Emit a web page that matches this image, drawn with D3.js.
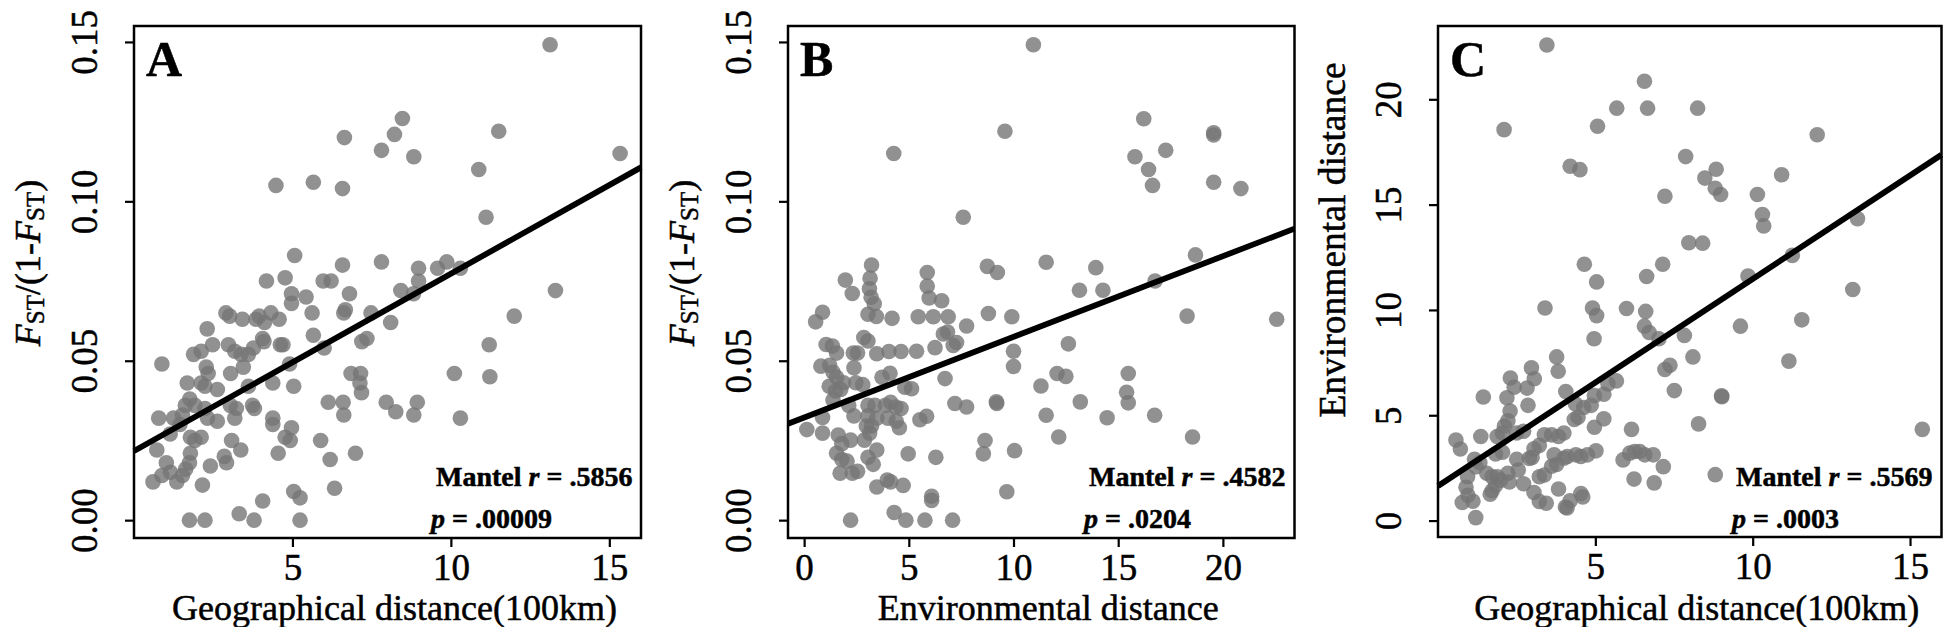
<!DOCTYPE html>
<html><head><meta charset="utf-8">
<script src="https://cdn.jsdelivr.net/npm/d3@7"></script>
<style>
html,body{margin:0;padding:0;background:#fff;}
svg{display:block;}
text{font-family:"Liberation Serif","Times New Roman",serif;fill:#000;stroke:#000;stroke-width:0.5px;}
</style></head>
<body>
<svg id="chart" width="1944" height="627"></svg>
<script>
// ---------- DATA ----------
// Panel A: geographical distance (100km) vs FST/(1-FST)
const pointsA = [
[13.13,0.1491],[8.47,0.126],[8.22,0.121],[6.64,0.120],[11.51,0.122],[7.81,0.116],[8.83,0.114],[15.34,0.115],
[10.88,0.110],[4.48,0.105],[5.66,0.106],[6.58,0.104],[11.11,0.095],[5.07,0.083],[7.81,0.081],[6.58,0.080],
[8.98,0.079],[9.58,0.079],[9.87,0.081],[10.30,0.079],[4.18,0.075],[4.77,0.076],[5.97,0.075],[6.22,0.075],
[8.98,0.075],[4.97,0.071],[4.97,0.068],[5.43,0.070],[6.80,0.071],[8.42,0.072],[8.82,0.071],[13.30,0.072],
[2.90,0.065],[3.02,0.064],[3.42,0.063],[3.85,0.063],[4.12,0.062],[3.95,0.064],[4.32,0.065],[4.58,0.063],
[5.62,0.065],[6.62,0.065],[6.67,0.066],[7.48,0.065],[8.10,0.062],[12.0,0.064],[2.31,0.060],[5.66,0.058],
[4.06,0.057],[4.10,0.056],[7.19,0.056],[7.35,0.057],[2.98,0.055],[2.48,0.055],[3.18,0.053],[3.38,0.052],
[3.61,0.052],[3.77,0.054],[1.88,0.052],[2.12,0.053],[4.62,0.055],[4.70,0.055],[6.0,0.054],[11.21,0.055],
[0.88,0.049],[2.28,0.048],[3.05,0.046],[3.45,0.048],[4.91,0.049],[1.68,0.043],[2.12,0.043],[2.34,0.046],
[2.24,0.042],[2.63,0.041],[3.61,0.042],[4.38,0.043],[5.04,0.042],[6.85,0.046],[7.15,0.046],[7.13,0.043],
[7.18,0.040],[10.11,0.046],[11.23,0.045],[1.76,0.038],[1.62,0.036],[1.92,0.036],[2.24,0.035],[2.32,0.032],
[2.63,0.031],[3.04,0.036],[3.23,0.035],[3.18,0.032],[3.74,0.036],[3.80,0.035],[0.78,0.032],[1.25,0.032],
[1.53,0.033],[1.45,0.030],[1.14,0.027],[1.78,0.026],[2.12,0.026],[1.92,0.025],[3.08,0.025],[4.38,0.032],
[4.38,0.030],[4.77,0.026],[4.97,0.029],[4.93,0.025],[6.13,0.037],[6.60,0.037],[6.62,0.033],[5.89,0.025],
[7.96,0.037],[8.26,0.034],[8.83,0.033],[8.94,0.037],[10.30,0.032],[0.72,0.022],[1.02,0.018],[0.88,0.014],
[0.60,0.012],[1.15,0.015],[1.35,0.012],[1.53,0.014],[1.63,0.016],[1.78,0.021],[1.75,0.018],[2.41,0.017],
[2.85,0.020],[2.92,0.018],[3.37,0.022],[4.55,0.021],[6.19,0.019],[6.99,0.021],[2.16,0.011],[6.33,0.010],
[5.04,0.009],[5.24,0.007],[4.06,0.006],[3.32,0.002],[1.75,0.000],[2.24,0.000],[3.79,0.000],[5.24,0.000]
];
// Panel B: environmental distance vs FST/(1-FST)
const pointsB = [
[3.22,0.080],[1.97,0.0753],[2.30,0.0711],[3.15,0.0759],[3.12,0.0726],[3.20,0.0699],[3.35,0.0679],[3.05,0.0646],
[3.45,0.0639],[0.88,0.0652],[0.55,0.0622],[4.20,0.0633],[2.85,0.0573],[3.05,0.0562],[1.05,0.0551],[1.35,0.0546],
[1.55,0.0524],[2.35,0.0524],[2.55,0.0524],[3.47,0.0522],[4.05,0.0529],[4.63,0.0529],[0.80,0.0483],[1.22,0.0486],
[2.38,0.0478],[4.10,0.0461],[1.38,0.0464],[1.55,0.0448],[1.88,0.0431],[2.47,0.0431],[2.80,0.0425],[1.20,0.042],
[1.50,0.0405],[1.75,0.041],[3.72,0.0448],[1.38,0.0377],[2.13,0.036],[3.05,0.036],[3.38,0.036],[3.88,0.036],
[4.13,0.037],[4.38,0.0355],[4.63,0.035],[0.88,0.0322],[0.13,0.0284],[0.88,0.0273],[2.38,0.0327],[3.05,0.0327],
[3.47,0.032],[2.97,0.0295],[3.22,0.0295],[3.13,0.0273],[4.00,0.032],[4.40,0.031],[4.55,0.029],[1.63,0.0267],
[1.80,0.024],[2.22,0.0251],[2.88,0.0251],[1.55,0.021],[1.80,0.019],[2.05,0.0185],[3.05,0.0197],[3.30,0.0175],
[3.47,0.022],[1.72,0.0147],[2.30,0.0147],[2.55,0.0153],[3.47,0.0104],[3.97,0.0126],[4.13,0.012],[2.22,0.0],
[4.30,0.0024],[4.73,0.0109],[5.88,0.0777],[5.88,0.0734],[5.97,0.0697],[6.57,0.0688],[8.75,0.0796],[9.23,0.0777],
[5.45,0.0638],[6.17,0.0638],[6.88,0.0638],[7.76,0.0609],[8.80,0.0648],[9.92,0.0638],[6.65,0.0584],[6.85,0.059],
[7.28,0.0557],[7.12,0.0548],[6.25,0.0541],[5.37,0.053],[6.73,0.0444],[4.81,0.0417],[5.13,0.0412],[7.20,0.0366],
[7.76,0.0355],[9.20,0.0366],[10.0,0.053],[10.0,0.0482],[8.64,0.025],[8.56,0.0208],[10.05,0.0218],[5.53,0.0315],
[5.85,0.0326],[4.97,0.0208],[6.29,0.0197],[6.09,0.0075],[6.09,0.0062],[9.68,0.0089],[4.86,0.0],[5.77,0.0],
[7.09,0.0],[7.60,0.095],[10.95,0.1491],[16.22,0.1259],[19.56,0.1208],[19.56,0.1215],[9.59,0.122],[4.28,0.115],
[15.80,0.114],[17.27,0.116],[16.45,0.110],[16.64,0.105],[19.56,0.106],[20.86,0.104],[11.56,0.0809],[13.93,0.0792],
[18.69,0.0832],[13.15,0.0721],[14.27,0.0721],[16.76,0.075],[18.29,0.064],[22.57,0.063],[12.62,0.0553],[12.08,0.046],
[12.50,0.0451],[15.48,0.046],[15.40,0.0401],[15.48,0.0368],[11.31,0.0421],[9.18,0.0371],[13.19,0.0371],[11.56,0.0329],
[14.47,0.0321],[16.74,0.0329],[12.16,0.0261],[18.55,0.0261]
];
// Panel C: geographical distance (100km) vs environmental distance
const pointsC = [
[3.46,22.58],[6.56,20.86],[5.68,19.58],[6.66,19.58],[8.25,19.58],[2.10,18.56],[5.07,18.72],[12.05,18.32],
[7.87,17.28],[4.20,16.82],[4.51,16.66],[8.84,16.68],[8.48,16.26],[10.92,16.42],[8.81,15.78],[8.98,15.48],
[7.21,15.40],[10.15,15.48],[10.31,14.53],[10.35,13.99],[13.33,14.33],[7.97,13.19],[8.41,13.17],[11.26,12.59],
[4.65,12.17],[7.14,12.17],[6.63,11.59],[5.04,11.33],[9.85,11.61],[13.18,10.97],[3.40,10.09],[4.91,10.09],
[5.04,9.73],[5.99,10.07],[6.60,9.93],[6.56,9.23],[6.71,8.93],[9.61,9.23],[11.56,9.53],[4.96,8.63],
[7.02,8.63],[7.83,8.79],[8.10,7.77],[3.77,7.77],[3.82,7.09],[7.37,7.37],[7.21,7.17],[11.15,7.57],
[2.97,7.25],[3.06,6.73],[2.30,6.77],[2.42,6.33],[2.83,6.29],[4.06,6.13],[5.67,6.63],[5.40,6.49],
[7.51,6.17],[9.01,5.92],[9.02,5.88],[1.44,5.87],[2.19,5.83],[2.29,5.20],[2.22,4.74],[2.11,4.49],
[2.86,5.47],[4.37,5.53],[4.63,5.37],[4.87,5.47],[4.97,5.93],[5.27,6.00],[4.45,4.90],[4.33,4.80],
[5.27,4.83],[4.97,4.43],[8.28,4.59],[6.15,4.33],[15.39,4.33],[0.57,3.82],[0.71,3.40],[1.36,3.99],
[1.88,3.99],[2.05,4.16],[2.50,4.16],[2.72,4.24],[1.16,2.91],[1.33,2.75],[1.83,3.16],[2.05,3.24],
[2.50,2.91],[3.05,3.41],[3.22,3.57],[3.38,4.07],[3.61,4.07],[3.83,3.99],[4.00,4.16],[2.99,3.00],
[0.94,2.08],[0.89,1.58],[0.77,0.86],[1.11,0.92],[1.20,0.14],[1.55,2.25],[1.72,2.08],[1.88,2.08],
[1.83,1.67],[1.72,1.42],[1.66,1.25],[1.99,1.92],[2.22,2.25],[2.27,1.83],[2.72,1.75],[3.05,1.33],
[3.22,0.91],[3.44,0.82],[3.22,2.08],[3.38,2.16],[3.61,2.58],[3.77,2.66],[3.83,1.50],[4.10,0.60],
[3.69,3.12],[4.00,2.96],[4.11,3.04],[4.38,3.12],[4.54,3.04],[4.75,3.12],[5.02,3.31],[4.54,1.28],
[4.60,1.12],[4.05,0.64],[4.20,0.94],[5.88,2.88],[6.09,3.20],[6.25,3.28],[6.41,3.28],[6.57,3.12],
[6.84,3.12],[7.16,2.56],[6.23,1.97],[6.87,1.79],[8.81,2.18],[1.20,2.55],[2.55,2.40],[2.90,2.95],
[0.95,1.20]
];
// Regression lines [intercept, slope]
const fitA = [0.0217, 0.00556];
const fitB = [0.0322, 0.00253];
const fitC = [1.64, 0.983];
// Tick values
const xTicksA = [5, 10, 15];
const yTicksA = [0, 0.05, 0.10, 0.15];
const xTicksB = [0, 5, 10, 15, 20];
const yTicksB = [0, 0.05, 0.10, 0.15];
const xTicksC = [5, 10, 15];
const yTicksC = [0, 5, 10, 15, 20];
// Labels
const panelLetters = ["A", "B", "C"];
const xTitles = ["Geographical distance(100km)", "Environmental distance", "Geographical distance(100km)"];
const mantelR = [".5856", ".4582", ".5569"];
const mantelP = [".00009", ".0204", ".0003"];

// ---------- LAYOUT ----------
const svg = d3.select("#chart");
const panels = [
  {pts: pointsA, fit: fitA, xt: xTicksA, yt: yTicksA, xd: [0, 16], yd: [-0.0056, 0.155], yfmt: d3.format(".2f"),
   box: {l: 134, r: 641, t: 26, b: 538}, ylab: "fst", ylc: 263, ylfs: 36, mx: 436, px: 431},
  {pts: pointsB, fit: fitB, xt: xTicksB, yt: yTicksB, xd: [-0.77, 23.42], yd: [-0.0056, 0.155], yfmt: d3.format(".2f"),
   box: {l: 788, r: 1294.5, t: 26, b: 538}, ylab: "fst", ylc: 263, ylfs: 36, mx: 1089, px: 1084},
  {pts: pointsC, fit: fitC, xt: xTicksC, yt: yTicksC, xd: [0, 16], yd: [-0.78, 23.48], yfmt: d3.format("d"),
   box: {l: 1438, r: 1941.5, t: 26, b: 537}, ylab: "env", ylc: 240, ylfs: 37.5, mx: 1736, px: 1732}
];

const FS = 37;
panels.forEach((p, i) => {
  const b = p.box;
  const x = d3.scaleLinear().domain(p.xd).range([b.l, b.r]);
  const y = d3.scaleLinear().domain(p.yd).range([b.b, b.t]);
  const g = svg.append("g");

  // points
  g.append("g").selectAll("circle").data(p.pts).join("circle")
    .attr("cx", d => x(d[0])).attr("cy", d => y(d[1])).attr("r", 7.8)
    .attr("fill", "rgb(118,118,118)").attr("fill-opacity", 0.8);

  // regression line across the x domain
  const x0 = p.xd[0], x1 = p.xd[1];
  g.append("line")
    .attr("x1", x(x0)).attr("y1", y(p.fit[0] + p.fit[1] * x0))
    .attr("x2", x(x1)).attr("y2", y(p.fit[0] + p.fit[1] * x1))
    .attr("stroke", "#000").attr("stroke-width", 5.8);

  // frame
  g.append("rect").attr("x", b.l).attr("y", b.t).attr("width", b.r - b.l).attr("height", b.b - b.t)
    .attr("fill", "none").attr("stroke", "#000").attr("stroke-width", 2.5);

  // x axis
  const xa = g.append("g").attr("transform", `translate(0,${b.b})`)
    .call(d3.axisBottom(x).tickValues(p.xt).tickSize(9).tickPadding(6).tickFormat(d3.format("d")));
  xa.select(".domain").remove();
  xa.attr("font-family", null).attr("font-size", null);
  xa.selectAll("line").attr("stroke-width", 2.2);
  xa.selectAll("text").attr("font-size", FS).attr("dy", "0.74em");

  // y axis
  const ya = g.append("g").attr("transform", `translate(${b.l},0)`)
    .call(d3.axisLeft(y).tickValues(p.yt).tickSize(9).tickFormat(p.yfmt));
  ya.select(".domain").remove();
  ya.attr("font-family", null).attr("font-size", null);
  ya.selectAll("line").attr("stroke-width", 2.2);
  ya.selectAll("text").attr("font-size", FS)
    .attr("x", 0).attr("dy", null).attr("text-anchor", "middle").attr("dominant-baseline", "central")
    .attr("transform", "translate(-50,0) rotate(-90)");

  // x title
  g.append("text").attr("x", (b.l + b.r) / 2 + 7).attr("y", 620).attr("text-anchor", "middle")
    .attr("font-size", 36).text(xTitles[i]);

  // y title
  const yt = g.append("text").attr("text-anchor", "middle").attr("dominant-baseline", "central")
    .attr("font-size", p.ylfs)
    .attr("transform", `translate(${b.l - 106},${p.ylc}) rotate(-90)`);
  if (p.ylab === "fst") {
    yt.append("tspan").attr("font-style", "italic").text("F");
    yt.append("tspan").attr("font-size", 25).attr("dy", 7).text("ST");
    yt.append("tspan").attr("dy", -7).text("/(1-");
    yt.append("tspan").attr("font-style", "italic").text("F");
    yt.append("tspan").attr("font-size", 25).attr("dy", 7).text("ST");
    yt.append("tspan").attr("dy", -7).text(")");
  } else {
    yt.text("Environmental distance");
  }

  // panel letter
  g.append("text").attr("x", b.l + 12).attr("y", 76).attr("font-size", 50).attr("font-weight", "bold")
    .text(panelLetters[i]);

  // Mantel statistics
  const m = g.append("text").attr("x", p.mx).attr("y", 486).attr("font-size", 28).attr("font-weight", "bold");
  m.append("tspan").text("Mantel ");
  m.append("tspan").attr("font-style", "italic").text("r");
  m.append("tspan").text(" = " + mantelR[i]);
  const pt = g.append("text").attr("x", p.px).attr("y", 528).attr("font-size", 28).attr("font-weight", "bold");
  pt.append("tspan").attr("font-style", "italic").text("p");
  pt.append("tspan").text(" = " + mantelP[i]);
});
</script>
</body></html>
